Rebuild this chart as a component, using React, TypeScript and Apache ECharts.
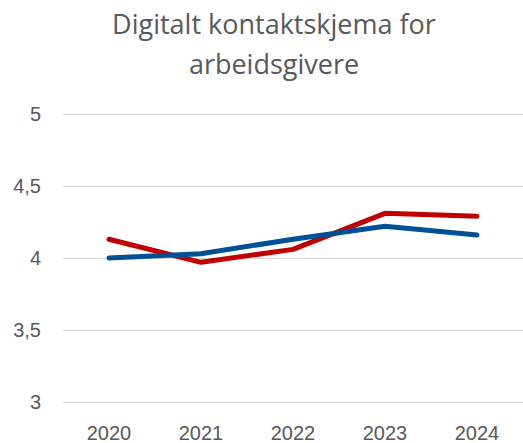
import React, { useEffect, useRef } from "react";
import * as echarts from "echarts";

const years = ["2020", "2021", "2022", "2023", "2024"];
const redSeries = [4.13, 3.97, 4.06, 4.31, 4.29];
const blueSeries = [4.0, 4.03, 4.13, 4.22, 4.16];
const titleText = "Digitalt kontaktskjema for\narbeidsgivere";

export default function App() {
  const ref = useRef<HTMLDivElement>(null);
  useEffect(() => {
    if (!ref.current) return;
    const chart = echarts.init(ref.current, null, { renderer: "svg" });
    chart.setOption({
      animation: false,
      backgroundColor: "#ffffff",
      graphic: [
        {
          type: "text",
          x: 274,
          y: 3,
          style: {
            text: titleText,
            fontFamily: "Open Sans",
            fontSize: 27,
            fontWeight: "normal",
            fill: "#595959",
            lineHeight: 40,
            align: "center",
            verticalAlign: "top",
          },
        },
      ],
      grid: { left: 63, width: 463, top: 114, bottom: 41 },
      xAxis: {
        type: "category",
        data: years,
        boundaryGap: true,
        axisLine: { show: false },
        axisTick: { show: false },
        axisLabel: {
          color: "#595959",
          fontSize: 20,
          fontFamily: "Liberation Sans",
          margin: 21,
        },
      },
      yAxis: {
        type: "value",
        min: 3,
        max: 5,
        interval: 0.5,
        axisLine: { show: false },
        axisTick: { show: false },
        splitLine: { lineStyle: { color: "#D9D9D9", width: 1 } },
        axisLabel: {
          color: "#595959",
          fontSize: 20,
          fontFamily: "Liberation Sans",
          margin: 22,
          formatter: (v: number) => String(v).replace(".", ","),
        },
      },
      series: [
        {
          type: "line",
          data: redSeries,
          showSymbol: false,
          lineStyle: { color: "#C00000", width: 5, cap: "round", join: "round" },
          itemStyle: { color: "#C00000" },
        },
        {
          type: "line",
          data: blueSeries,
          showSymbol: false,
          lineStyle: { color: "#005096", width: 5, cap: "round", join: "round" },
          itemStyle: { color: "#005096" },
        },
      ],
    });
    return () => chart.dispose();
  }, []);
  return (
    <div
      ref={ref}
      style={{ position: "fixed", left: 0, top: 0, width: 523, height: 443 }}
    />
  );
}
